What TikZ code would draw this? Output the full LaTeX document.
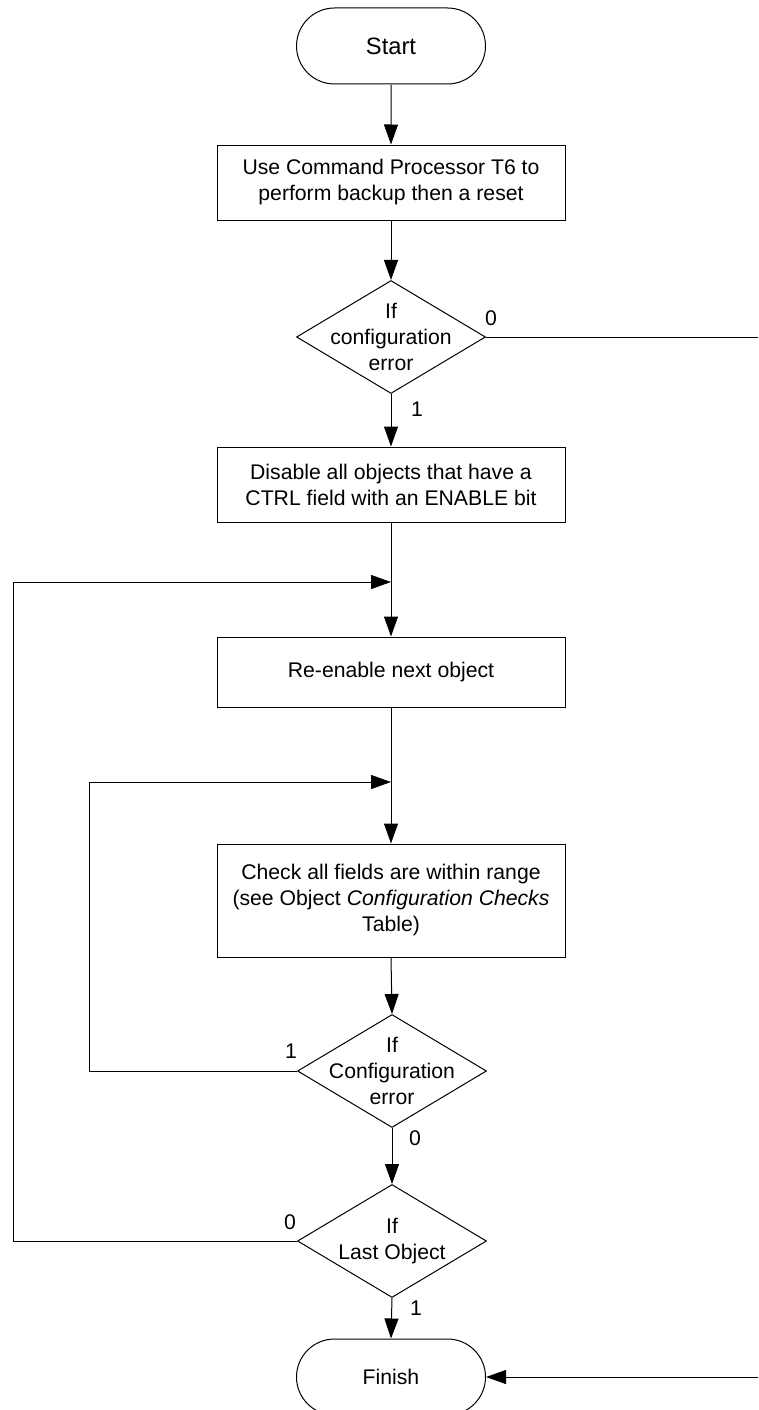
\documentclass[tikz,border=0pt]{standalone}
\usepackage{fontspec}
\setmainfont{Liberation Sans}
\usetikzlibrary{shapes.misc,shapes.geometric,arrows.meta}
\begin{document}
\begin{tikzpicture}[x=1pt,y=-1pt,
  every node/.style={font=\fontsize{21.2}{26}\selectfont},
  term/.style={draw, line width=1pt, rounded rectangle, minimum width=189pt, minimum height=76pt, inner sep=0pt},
  proc/.style={draw, line width=1pt, rectangle, minimum width=348pt, minimum height=75pt, inner sep=0pt, align=center},
  dec/.style={draw, line width=1pt, diamond, minimum width=189pt, minimum height=113pt, inner sep=0pt},
  dtext/.style={align=center, inner sep=0pt},
  lbl/.style={inner sep=0pt},
  conn/.style={line width=1pt, -{Triangle[length=20pt,width=14pt]}},
  plain/.style={line width=1pt}
]
\clip (0,0) rectangle (758,1410);
\useasboundingbox (0,0) rectangle (758,1410);

\node[term, font=\fontsize{23.7}{28}\selectfont] (start) at (391,46) {Start};
\node[proc] (b1) at (391,182.5) {Use Command Processor T6 to\\perform backup then a reset};
\node[dec] (d1) at (391,337) {};
\node[dtext] at (d1) {If\\configuration\\error};
\node[proc] (b2) at (391,484.5) {Disable all objects that have a\\CTRL field with an ENABLE bit};
\coordinate (j1) at (391,582);
\node[proc, minimum height=70pt] (b3) at (391,672) {Re-enable next object};
\coordinate (j2) at (391,782);
\node[proc, minimum height=113pt] (b4) at (391,900.5) {Check all fields are within range\\(see Object \textit{Configuration Checks}\\Table)};
\node[dec] (d2) at (392,1071) {};
\node[dtext] at (d2) {If\\Configuration\\error};
\node[dec] (d3) at (392,1241) {};
\node[dtext] at (d3) {If\\Last Object};
\node[term] (fin) at (391,1377) {Finish};

\coordinate (r1) at (758,337);
\coordinate (r2) at (758,1377);
\coordinate (l1a) at (13,1241);
\coordinate (l1b) at (13,582);
\coordinate (l2a) at (89,1071);
\coordinate (l2b) at (89,782);

\draw[conn] (start) -- (b1);
\draw[conn] (b1) -- (d1);
\draw[conn] (d1) -- (b2);
\draw[plain] (d1.east) -- (r1);
\draw[conn] (b2) -- (b3);
\draw[conn] (b3) -- (b4);
\draw[conn] (b4.south) -- (d2.north);
\draw[conn] (d2.south) -- (d3.north);
\draw[conn] (d3.south) -- (fin.north);
\draw[conn] (r2) -- (fin.east);
\draw[conn] (d3.west) -- (l1a) -- (l1b) -- (j1);
\draw[conn] (d2.west) -- (l2a) -- (l2b) -- (j2);

\node[lbl] at (491,318) {0};
\node[lbl] at (417,409) {1};
\node[lbl] at (291,1051) {1};
\node[lbl] at (415,1138) {0};
\node[lbl] at (290,1222) {0};
\node[lbl] at (416,1308) {1};
\end{tikzpicture}
\end{document}
